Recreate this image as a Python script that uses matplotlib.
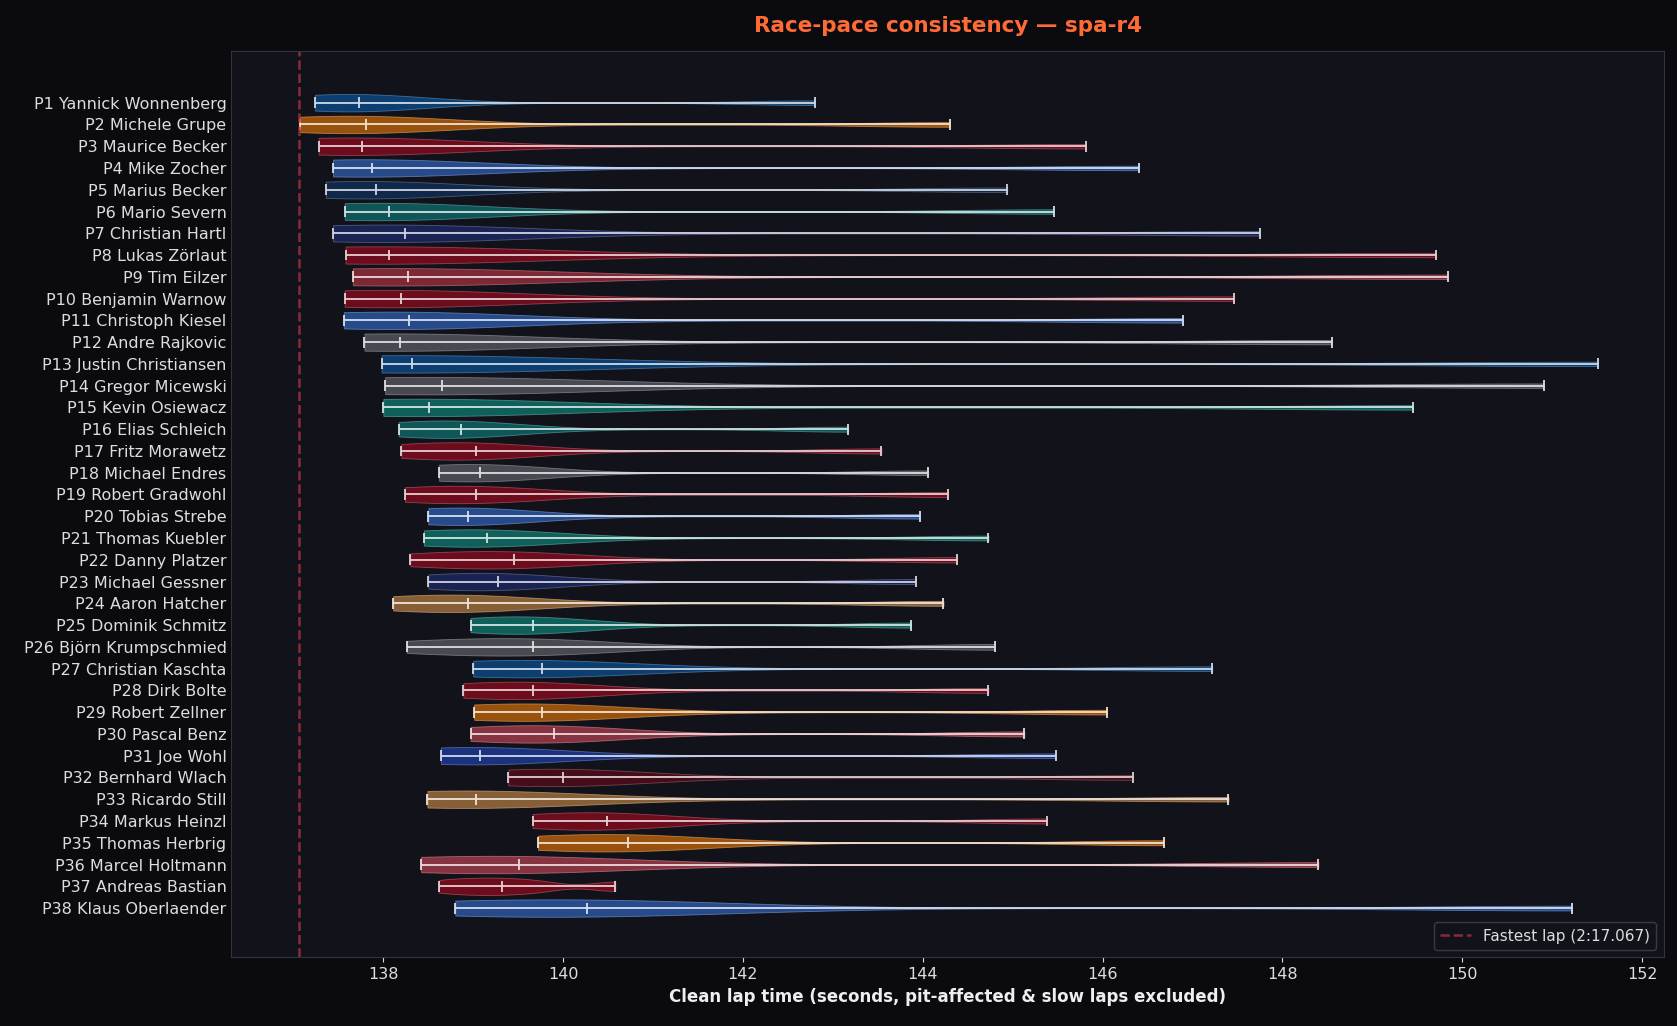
import numpy as np
import matplotlib.pyplot as plt

drivers = [
    "P1 Yannick Wonnenberg", "P2 Michele Grupe", "P3 Maurice Becker", "P4 Mike Zocher",
    "P5 Marius Becker", "P6 Mario Severn", "P7 Christian Hartl", "P8 Lukas Zörlaut",
    "P9 Tim Eilzer", "P10 Benjamin Warnow", "P11 Christoph Kiesel", "P12 Andre Rajkovic",
    "P13 Justin Christiansen", "P14 Gregor Micewski", "P15 Kevin Osiewacz", "P16 Elias Schleich",
    "P17 Fritz Morawetz", "P18 Michael Endres", "P19 Robert Gradwohl", "P20 Tobias Strebe",
    "P21 Thomas Kuebler", "P22 Danny Platzer", "P23 Michael Gessner", "P24 Aaron Hatcher",
    "P25 Dominik Schmitz", "P26 Björn Krumpschmied", "P27 Christian Kaschta", "P28 Dirk Bolte",
    "P29 Robert Zellner", "P30 Pascal Benz", "P31 Joe Wohl", "P32 Bernhard Wlach",
    "P33 Ricardo Still", "P34 Markus Heinzl", "P35 Thomas Herbrig", "P36 Marcel Holtmann",
    "P37 Andreas Bastian", "P38 Klaus Oberlaender",
]

# clean lap times (s) per driver: fastest, ..., median, ..., slowest
laps = [
    [137.24, 137.55, 137.73, 137.95, 142.80],
    [137.07, 137.50, 137.81, 138.10, 144.30],
    [137.28, 137.55, 137.76, 138.05, 145.81],
    [137.44, 137.70, 137.87, 138.15, 146.40],
    [137.36, 137.65, 137.92, 138.20, 144.94],
    [137.57, 137.85, 138.06, 138.35, 145.46],
    [137.44, 137.90, 138.24, 138.55, 147.75],
    [137.58, 137.85, 138.06, 138.35, 149.71],
    [137.66, 137.95, 138.27, 138.60, 149.84],
    [137.57, 137.90, 138.20, 138.50, 147.46],
    [137.56, 137.95, 138.29, 138.60, 146.89],
    [137.79, 137.98, 138.18, 138.50, 148.55],
    [137.98, 138.15, 138.32, 138.60, 151.51],
    [138.02, 138.35, 138.65, 138.95, 150.91],
    [138.00, 138.25, 138.51, 138.80, 149.45],
    [138.17, 138.50, 138.86, 139.20, 143.17],
    [138.20, 138.60, 139.03, 139.35, 143.54],
    [138.62, 138.85, 139.07, 139.35, 144.06],
    [138.24, 138.65, 139.03, 139.35, 144.28],
    [138.50, 138.70, 138.94, 139.25, 143.97],
    [138.45, 138.80, 139.15, 139.50, 144.73],
    [138.30, 138.90, 139.45, 139.80, 144.38],
    [138.50, 138.90, 139.27, 139.60, 143.92],
    [138.11, 138.55, 138.94, 139.30, 144.23],
    [138.97, 139.30, 139.66, 140.00, 143.87],
    [138.26, 139.00, 139.66, 140.10, 144.80],
    [139.00, 139.40, 139.77, 140.10, 147.22],
    [138.89, 139.30, 139.66, 140.00, 144.73],
    [139.01, 139.40, 139.77, 140.10, 146.05],
    [138.97, 139.45, 139.90, 140.25, 145.13],
    [138.64, 138.85, 139.08, 139.40, 145.48],
    [139.39, 139.70, 140.00, 140.40, 146.34],
    [138.49, 138.75, 139.03, 139.40, 147.40],
    [139.66, 140.10, 140.49, 140.85, 145.38],
    [139.72, 140.25, 140.72, 141.10, 146.68],
    [138.42, 139.00, 139.51, 139.90, 148.40],
    [138.62, 139.00, 139.32, 139.70, 140.58],
    [138.80, 139.60, 140.27, 140.80, 151.22],
]

colors = [
    "#0a4d8c", "#c8680a", "#8b0a1e", "#2f5fb0", "#10305a", "#0f6e6e", "#1c2a6a", "#8b0a1e",
    "#a03040", "#8b0a1e", "#2f5fb0", "#5c5c64", "#0a4d8c", "#5c5c64", "#0f7a70", "#0f6e6e",
    "#8b0a1e", "#5c5c64", "#8b0a1e", "#2f5fb0", "#0f7a70", "#8b0a1e", "#1c2a6a", "#b07a40",
    "#0f7a70", "#5c5c64", "#0a4d8c", "#8b0a1e", "#c8680a", "#b04050", "#1f3fa0", "#5a0a1a",
    "#b07a40", "#8b0a1e", "#c8680a", "#b04050", "#8b0a1e", "#2f5fb0",
]

fastest = 137.067


def lighten(c, f=0.6):
    r, g, b = [int(c[i:i + 2], 16) / 255 for i in (1, 3, 5)]
    return (r + (1 - r) * f, g + (1 - g) * f, b + (1 - b) * f)


plt.rcParams["font.family"] = ["DejaVu Sans"]
fig = plt.figure(figsize=(16.77, 10.26), dpi=100, facecolor="#0b0b0f")
ax = fig.add_axes([0.138, 0.067, 0.854, 0.883], facecolor="#12131a")

pos = np.arange(len(drivers))
for i in range(len(drivers)):
    vp = ax.violinplot([laps[i]], positions=[pos[i]], orientation="horizontal",
                       widths=0.8, showmedians=True, showextrema=True, bw_method=0.35)
    for b in vp["bodies"]:
        b.set_facecolor(colors[i])
        b.set_edgecolor(lighten(colors[i], 0.3))
        b.set_alpha(0.75)
        b.set_linewidth(0.6)
    lc = lighten(colors[i], 0.8)
    for k in ("cmins", "cmaxes", "cbars", "cmedians"):
        vp[k].set_color(lc)
        vp[k].set_linewidth(1.3)
    vp["cmins"].set_segments([[[laps[i][0], pos[i] - 0.25], [laps[i][0], pos[i] + 0.25]]])
    vp["cmaxes"].set_segments([[[laps[i][-1], pos[i] - 0.25], [laps[i][-1], pos[i] + 0.25]]])
    vp["cmedians"].set_segments([[[laps[i][2], pos[i] - 0.25], [laps[i][2], pos[i] + 0.25]]])

ax.axvline(fastest, color="#a8323c", ls="--", lw=1.8, alpha=0.8,
           label="Fastest lap (2:17.067)")

ax.set_yticks(pos)
ax.set_yticklabels(drivers, color="#dddddd", fontsize=11.5)
ax.set_ylim(len(drivers) - 1 + 2.26, -2.36)
ax.set_xlim(136.31, 152.24)
ax.set_xticks(np.arange(138, 153, 2))
ax.tick_params(axis="x", colors="#dddddd", labelsize=11.5)
ax.tick_params(axis="y", length=0)
for s in ax.spines.values():
    s.set_color("#333340")
ax.set_xlabel("Clean lap time (seconds, pit-affected & slow laps excluded)",
              color="#eeeeee", fontsize=12, fontweight="bold")
ax.set_title("Race-pace consistency — spa-r4", color="#ff6b35", fontsize=15.5,
             fontweight="bold", pad=14)
leg = ax.legend(loc="lower right", facecolor="#12131a", edgecolor="#444450",
                labelcolor="#dddddd", fontsize=11)

fig.savefig("out.png", dpi=100, facecolor=fig.get_facecolor())
